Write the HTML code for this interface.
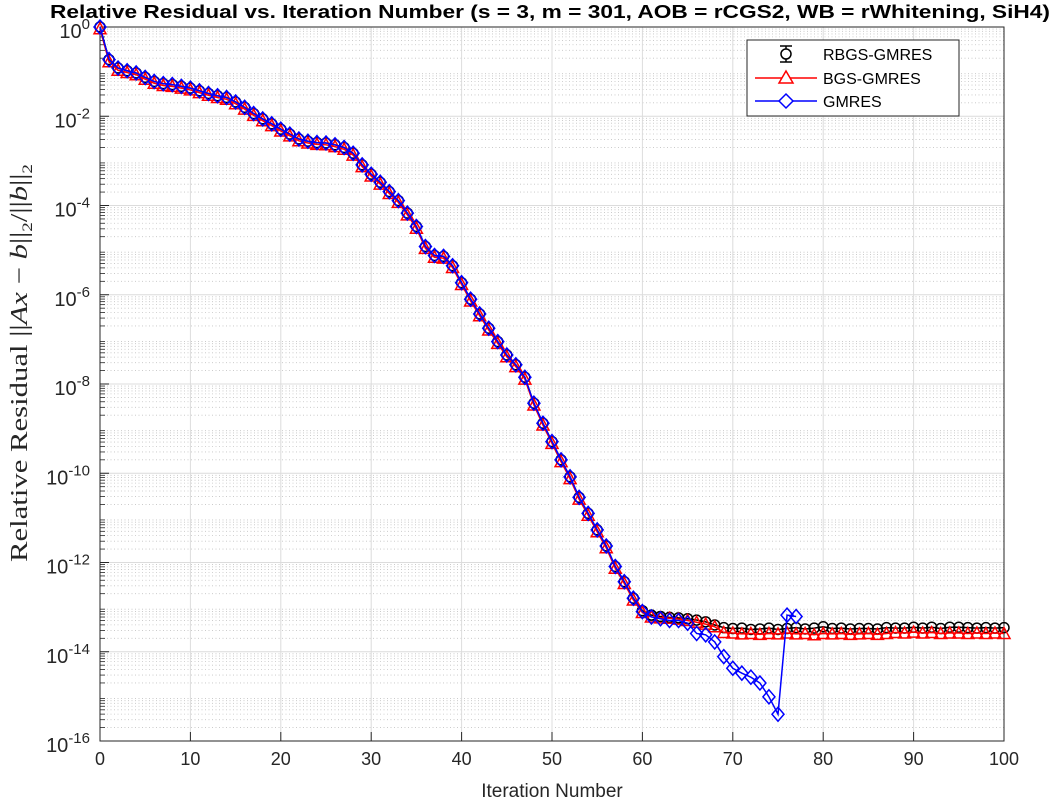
<!DOCTYPE html>
<html><head><meta charset="utf-8"><style>
body{margin:0;background:#fff;width:1056px;height:801px;overflow:hidden}
svg{display:block;font-family:"Liberation Sans",sans-serif}
</style></head><body>
<svg id="chart" width="1056" height="801">
<g id="grid"></g>
<g id="axes"></g>
<g id="series"></g>
<text x="552" y="797" text-anchor="middle" font-size="19" fill="#262626">Iteration Number</text>
<text transform="translate(27,562) rotate(-90)" font-size="24" font-family="Liberation Serif,serif" fill="#262626" textLength="398" lengthAdjust="spacingAndGlyphs">Relative Residual ||<tspan font-style="italic">Ax</tspan> − <tspan font-style="italic">b</tspan>||<tspan font-size="15" dy="5">2</tspan><tspan dy="-5">/||</tspan><tspan font-style="italic">b</tspan>||<tspan font-size="15" dy="5">2</tspan></text>
<g>
<rect x="747" y="40" width="212" height="76" fill="#fff" stroke="#262626" stroke-width="1"/>
<g>
<line x1="786" y1="46" x2="786" y2="62" stroke="#000" stroke-width="1.5"/><line x1="780" y1="46" x2="792" y2="46" stroke="#000" stroke-width="1.5"/><line x1="780" y1="62" x2="792" y2="62" stroke="#000" stroke-width="1.5"/>
<circle cx="786" cy="54" r="5" fill="#fff" stroke="#000" stroke-width="1.5"/>
<text x="823" y="60" font-size="16">RBGS-GMRES</text></g>
<g>
<line x1="755" y1="78" x2="817" y2="78" stroke="#f00" stroke-width="1.5"/>
<polygon points="786,71 793,83 779,83" fill="#fff" stroke="#f00" stroke-width="1.5"/>
<text x="823" y="84" font-size="16">BGS-GMRES</text></g>
<g>
<line x1="755" y1="101" x2="817" y2="101" stroke="#00f" stroke-width="1.5"/>
<polygon points="786,94 793,101 786,108 779,101" fill="#fff" stroke="#00f" stroke-width="1.5"/>
<text x="823" y="107" font-size="16">GMRES</text></g>
</g>
<text x="50" y="18" font-size="18" font-weight="bold" textLength="1000" lengthAdjust="spacingAndGlyphs">Relative Residual vs. Iteration Number (s = 3, m = 301, AOB = rCGS2, WB = rWhitening, SiH4)</text>
</svg>
<script>
const iterations=[...Array(101).keys()];
const rbgsLog=[0,-0.73,-0.92,-0.98,-1.03,-1.13,-1.22,-1.27,-1.29,-1.33,-1.37,-1.43,-1.49,-1.54,-1.58,-1.68,-1.80,-1.94,-2.06,-2.17,-2.29,-2.40,-2.51,-2.56,-2.59,-2.60,-2.64,-2.70,-2.83,-3.09,-3.30,-3.48,-3.69,-3.89,-4.17,-4.47,-4.92,-5.12,-5.14,-5.35,-5.73,-6.10,-6.43,-6.75,-7.05,-7.35,-7.57,-7.85,-8.43,-8.88,-9.29,-9.70,-10.08,-10.54,-10.90,-11.27,-11.63,-12.09,-12.43,-12.80,-13.08,-13.18,-13.21,-13.23,-13.24,-13.26,-13.29,-13.33,-13.40,-13.46,-13.48,-13.47,-13.50,-13.49,-13.47,-13.50,-13.48,-13.46,-13.49,-13.47,-13.44,-13.48,-13.47,-13.49,-13.48,-13.48,-13.49,-13.46,-13.47,-13.47,-13.45,-13.47,-13.45,-13.48,-13.45,-13.45,-13.46,-13.47,-13.46,-13.47,-13.46];
const bgsLog=[-0.04,-0.78,-0.97,-1.02,-1.07,-1.17,-1.26,-1.31,-1.33,-1.37,-1.41,-1.47,-1.53,-1.58,-1.62,-1.72,-1.84,-1.98,-2.10,-2.21,-2.33,-2.44,-2.55,-2.60,-2.63,-2.64,-2.68,-2.74,-2.87,-3.13,-3.34,-3.52,-3.73,-3.93,-4.21,-4.51,-4.96,-5.16,-5.18,-5.39,-5.77,-6.14,-6.47,-6.79,-7.09,-7.39,-7.61,-7.89,-8.47,-8.92,-9.33,-9.74,-10.12,-10.58,-10.94,-11.31,-11.67,-12.13,-12.47,-12.84,-13.12,-13.22,-13.24,-13.25,-13.27,-13.30,-13.34,-13.38,-13.44,-13.57,-13.58,-13.60,-13.59,-13.61,-13.59,-13.60,-13.58,-13.60,-13.59,-13.62,-13.59,-13.60,-13.59,-13.61,-13.60,-13.59,-13.61,-13.59,-13.57,-13.58,-13.56,-13.58,-13.57,-13.59,-13.58,-13.58,-13.59,-13.58,-13.59,-13.58,-13.59];
const gmresLog=[0,-0.73,-0.92,-0.98,-1.03,-1.13,-1.22,-1.27,-1.29,-1.33,-1.37,-1.43,-1.49,-1.54,-1.58,-1.68,-1.80,-1.94,-2.06,-2.17,-2.29,-2.40,-2.51,-2.56,-2.59,-2.60,-2.64,-2.70,-2.83,-3.09,-3.30,-3.48,-3.69,-3.89,-4.17,-4.47,-4.92,-5.12,-5.14,-5.35,-5.73,-6.10,-6.43,-6.75,-7.05,-7.35,-7.57,-7.85,-8.43,-8.88,-9.29,-9.70,-10.08,-10.54,-10.90,-11.27,-11.63,-12.09,-12.43,-12.80,-13.10,-13.22,-13.26,-13.30,-13.30,-13.36,-13.59,-13.62,-13.78,-14.11,-14.37,-14.48,-14.57,-14.70,-15.01,-15.40,-13.18,-13.21];
const xTicks=[0,10,20,30,40,50,60,70,80,90,100];
const yTickExps=[0,-2,-4,-6,-8,-10,-12,-14,-16];
const yTickSup=['0','-2','-4','-6','-8','-10','-12','-14','-16'];
const L=100,R=1004,T=27,B=741;
const xs=v=>L+(v-0)/100*(R-L);
const ys=e=>T+(0-e)/16*(B-T);
const NS="http://www.w3.org/2000/svg";
function mk(parent,tag,attrs){const e=document.createElementNS(NS,tag);for(const k in attrs)e.setAttribute(k,attrs[k]);parent.appendChild(e);return e;}
const grid=document.getElementById('grid'),axes=document.getElementById('axes'),series=document.getElementById('series');
for(let d=0;d>-16;d--){for(let m=2;m<=9;m++){const y=ys(d-1+Math.log10(m));
const l=mk(grid,'line',{x1:L,x2:R,y1:y,y2:y,stroke:'#c4c4c4','stroke-width':0.8,'stroke-dasharray':'1,2.5'});


mk(axes,'line',{x1:L,x2:L+5,y1:y,y2:y,stroke:'#262626','stroke-width':0.8});}}
yTickExps.forEach((e,i)=>{const y=ys(e);
const l=mk(grid,'line',{x1:L,x2:R,y1:y,y2:y,stroke:'#dcdcdc','stroke-width':1});


const t=mk(axes,'text',{x:L-10,y:y+11,'font-size':20,'text-anchor':'end',fill:'#262626'});


const b=mk(t,'tspan',{});b.textContent='10';
const s=mk(t,'tspan',{dy:'-9','font-size':'15'});s.textContent=yTickSup[i];
mk(axes,'line',{x1:L,x2:L+9,y1:y,y2:y,stroke:'#262626'});});
xTicks.forEach(v=>{const x=xs(v);
const l=mk(grid,'line',{x1:x,x2:x,y1:T,y2:B,stroke:'#dcdcdc','stroke-width':1});


mk(axes,'line',{x1:x,x2:x,y1:B,y2:B-9,stroke:'#262626'});
const t=mk(axes,'text',{x:x,y:B+24,'font-size':18,'text-anchor':'middle',fill:'#262626'});


t.textContent=v;});
const frame=mk(axes,'rect',{x:L,y:T,width:R-L,height:B-T,fill:'none',stroke:'#262626','stroke-width':1});


function draw(vals,color,shape,name){
const g=mk(series,'g',{});


const pts=vals.map((e,i)=>xs(iterations[i])+','+ys(e)).join(' ');
mk(g,'polyline',{points:pts,fill:'none',stroke:color,'stroke-width':1.5});
vals.forEach((e,i)=>{const x=xs(iterations[i]),y=ys(e);let m;
if(shape==='c')m=mk(g,'circle',{cx:x,cy:y,r:5,fill:'none',stroke:color,'stroke-width':1.5});
else if(shape==='t')m=mk(g,'polygon',{points:`${x},${y-6} ${x+6},${y+5} ${x-6},${y+5}`,fill:'none',stroke:color,'stroke-width':1.5});
else m=mk(g,'polygon',{points:`${x},${y-7} ${x+6},${y} ${x},${y+7} ${x-6},${y}`,fill:'none',stroke:color,'stroke-width':1.5});

});}
draw(rbgsLog,'#000','c','rbgs-gmres-series');
draw(bgsLog,'#f00','t','bgs-gmres-series');
draw(gmresLog,'#00f','d','gmres-series');
</script>
</body></html>
